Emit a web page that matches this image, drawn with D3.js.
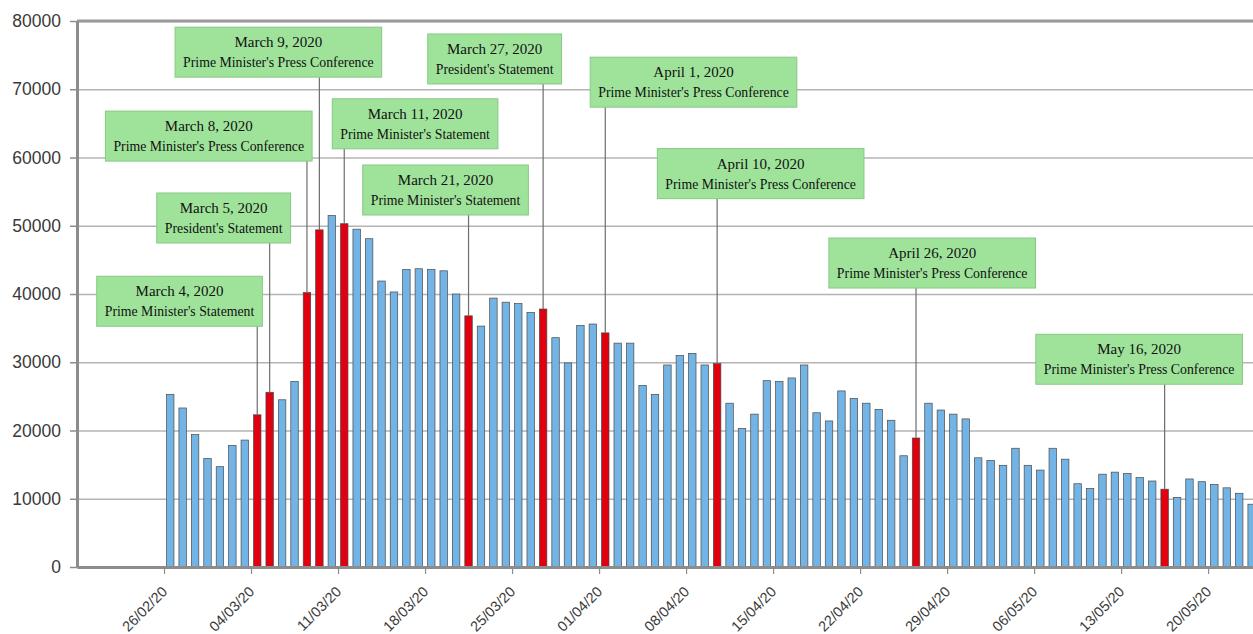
<!DOCTYPE html>
<html>
<head>
<meta charset="utf-8">
<script src="https://cdn.jsdelivr.net/npm/d3@7"></script>
<style>
  body { margin: 0; background: #fff; }
  svg { display: block; }
</style>
</head>
<body>
<svg id="chart" width="1253" height="634"></svg>
<script>
const firstDay = '2020-02-26'

// daily figures, 26/02/20 .. 23/05/20
const dailyValues = [
  25300, 23300, 19400, 15900,
  14700, 17800, 18600, 22300, 25600, 24500, 27200, 40200, 49400, 51500,
  50300, 49500, 48100, 41900, 40300, 43600, 43700, 43600, 43400, 40000,
  36800, 35300, 39400, 38800, 38600, 37300, 37800, 33600, 29900, 35400, 35600,
  34300, 32800, 32800, 26600, 25300, 29600, 31000, 31300, 29600, 29800,
  24000, 20300, 22400, 27300, 27200, 27700, 29600, 22600, 21400, 25800,
  24700, 24000, 23100, 21500, 16300, 18900, 24000, 23000, 22400, 21700,
  16000, 15600, 14900, 17400, 14900, 14200, 17400, 15800, 12200, 11500,
  13600, 13900, 13700, 13100, 12600, 11400, 10200, 12900, 12500, 12100,
  11600, 10800, 9200
]

const eventDays = [
  '2020-03-04', '2020-03-05', '2020-03-08', '2020-03-09', '2020-03-11', '2020-03-21',
  '2020-03-27', '2020-04-01', '2020-04-10', '2020-04-26', '2020-05-16'
]
const eventTitles = [
  'March 4, 2020', 'March 5, 2020', 'March 8, 2020', 'March 9, 2020', 'March 11, 2020', 'March 21, 2020',
  'March 27, 2020', 'April 1, 2020', 'April 10, 2020', 'April 26, 2020', 'May 16, 2020'
]
const eventKinds = [
  "Prime Minister's Statement", "President's Statement", "Prime Minister's Press Conference",
  "Prime Minister's Press Conference", "Prime Minister's Statement", "Prime Minister's Statement",
  "President's Statement", "Prime Minister's Press Conference", "Prime Minister's Press Conference",
  "Prime Minister's Press Conference", "Prime Minister's Press Conference"
]
// label box anchor: [days after first bar to box centre, value at box top]
const labelSpots = [
  [1.25, 42600], [4.8, 54800], [3.6, 66800], [9.2, 79100], [20.2, 68600], [22.65, 58900],
  [26.6, 78100], [42.6, 74700], [48.0, 61300], [61.8, 48200], [78.45, 34100]
]

const yTicks = [0, 10000, 20000, 30000, 40000, 50000, 60000, 70000, 80000]

const svg = d3.select('#chart')
const plotLeft = 77
const plotTop = 21
const plotBottom = 567
const dayPx = 12.43

const parse = d3.utcParse('%Y-%m-%d')
const day0 = parse(firstDay)
const axisStart = d3.utcDay.offset(day0, -7)
const axisEnd = d3.utcDay.offset(day0, 95)

const x = d3.scaleUtc()
  .domain([axisStart, axisEnd])
  .range([plotLeft, plotLeft + 102 * dayPx])

const y = d3.scaleLinear()
  .domain([0, 80000])
  .range([plotBottom, plotTop])

const rows = dailyValues.map((v, i) => {
  const day = d3.utcDay.offset(day0, i)
  return { day, value: v, key: d3.utcFormat('%Y-%m-%d')(day) }
})
const bandW = x(d3.utcDay.offset(day0, 1)) - x(day0)
const barW = bandW * 0.6

// grid
svg.append('g')
  .attr('transform', `translate(${plotLeft},0)`)
  .call(d3.axisLeft(y).tickValues(yTicks).tickSize(-(1253 - plotLeft)).tickFormat(''))
  .call(g => g.select('.domain').remove())
  .call(g => g.selectAll('line').attr('stroke', '#b4b4b4').attr('stroke-width', 1.6))

svg.append('line')
  .attr('x1', plotLeft).attr('x2', 1253)
  .attr('y1', y(80000)).attr('y2', y(80000))
  .attr('stroke', '#9a9a9a')
  .attr('stroke-width', 3)

// bars
svg.append('g')
  .selectAll('rect')
  .data(rows)
  .join('rect')
  .attr('x', d => x(d.day) + (bandW - barW) / 2)
  .attr('width', barW)
  .attr('y', d => y(d.value))
  .attr('height', d => y(0) - y(d.value))
  .attr('fill', d => eventDays.includes(d.key) ? '#e0000f' : '#72b4e6')
  .attr('stroke', '#4a4a4a')
  .attr('stroke-width', 0.7)

// axes
svg.append('g')
  .attr('transform', `translate(${plotLeft},0)`)
  .call(d3.axisLeft(y).tickValues(yTicks).tickSize(7).tickSizeOuter(0).tickPadding(9).tickFormat(d3.format('d')))
  .call(g => g.select('.domain').attr('stroke', '#8c8c8c').attr('stroke-width', 3))
  .call(g => g.selectAll('line').attr('stroke', '#8c8c8c').attr('stroke-width', 1.5))
  .call(g => g.selectAll('text')
    .attr('fill', '#3a3a3a')
    .style('font', '17.5px "Liberation Sans", Arial, sans-serif'))

svg.append('g')
  .attr('transform', `translate(0,${plotBottom})`)
  .call(d3.axisBottom(x).tickValues(d3.range(0, 88, 7).map(i => d3.utcDay.offset(day0, i)))
    .tickSize(7).tickSizeOuter(0).tickFormat(d3.utcFormat('%d/%m/%y')))
  .call(g => g.select('.domain').attr('stroke', '#8c8c8c').attr('stroke-width', 3))
  .call(g => g.selectAll('line').attr('stroke', '#8c8c8c').attr('stroke-width', 1.2))
  .call(g => g.selectAll('text')
    .attr('x', 0).attr('y', 0).attr('dy', '0.35em')
    .attr('text-anchor', 'end')
    .attr('transform', 'translate(0,22) rotate(-45)')
    .attr('fill', '#3a3a3a')
    .style('font', '14.5px "Liberation Sans", Arial, sans-serif'))

// event labels
const boxH = 50
const notes = eventDays.map((d, i) => ({
  day: parse(d),
  title: eventTitles[i],
  kind: eventKinds[i],
  spot: labelSpots[i]
}))

const lineG = svg.append('g')
const boxG = svg.append('g')

notes.forEach(n => {
  const row = rows.find(r => +r.day === +n.day)
  const cx = x(n.day) + bandW / 2
  const boxTop = y(n.spot[1])
  const boxCx = x(new Date(+day0 + n.spot[0] * 864e5))

  lineG.append('line')
    .attr('x1', cx).attr('x2', cx)
    .attr('y1', boxTop + boxH).attr('y2', y(row.value))
    .attr('stroke', '#6e6e6e')
    .attr('stroke-width', 1.2)

  const g = boxG.append('g')
  const rect = g.append('rect')
    .attr('y', boxTop)
    .attr('height', boxH)
    .attr('fill', '#9fe39b')
    .attr('stroke', '#86c984')
    .attr('stroke-width', 1)

  const t1 = g.append('text')
    .attr('x', boxCx).attr('y', boxTop + 20)
    .attr('text-anchor', 'middle')
    .style('font', '15px "Liberation Serif", "Times New Roman", serif')
    .attr('fill', '#111')
    .text(n.title)

  const t2 = g.append('text')
    .attr('x', boxCx).attr('y', boxTop + 40)
    .attr('text-anchor', 'middle')
    .style('font', '13.8px "Liberation Serif", "Times New Roman", serif')
    .attr('fill', '#111')
    .text(n.kind)

  const w = Math.max(t1.node().getComputedTextLength(), t2.node().getComputedTextLength()) + 16
  rect.attr('x', boxCx - w / 2).attr('width', w)
})
</script>
</body>
</html>
